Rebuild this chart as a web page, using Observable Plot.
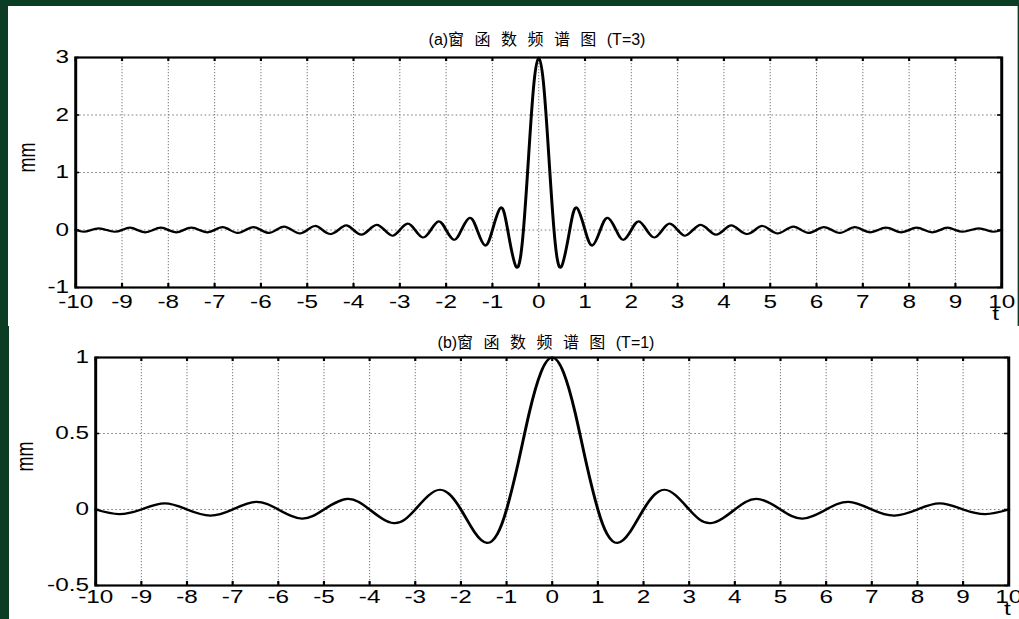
<!DOCTYPE html>
<html><head><meta charset="utf-8">
<script src="https://cdn.jsdelivr.net/npm/d3@7"></script>
<script src="https://cdn.jsdelivr.net/npm/@observablehq/plot@0.6"></script>
<style>
html,body{margin:0;padding:0;}
body{width:1019px;height:619px;background:#0b3d24;position:relative;overflow:hidden;font-family:"Liberation Sans",Arial,sans-serif;}
.panel{position:absolute;background:#fff;}
.title{position:absolute;transform:translate(-50%,-50%);font-size:16px;white-space:nowrap;font-family:"Liberation Sans","Noto Sans CJK SC",sans-serif;word-spacing:6px;color:#000;}
.chart{position:absolute;left:0;}
</style></head><body>
<div class="panel" style="left:8px;top:6px;width:1009px;height:320px;border-right:1px solid #9fb5a8"></div>
<div class="panel" style="left:9px;top:326px;width:1010px;height:293px"></div>
<div id="a" class="chart" style="top:0px"></div>
<div id="b" class="chart" style="top:326px"></div>
<div class="title" id="ta" style="left:537px;top:38px"></div>
<div class="title" id="tb" style="left:546px;top:341px"></div>
<script>
// ---- data ----
const xTicks = [-10,-9,-8,-7,-6,-5,-4,-3,-2,-1,0,1,2,3,4,5,6,7,8,9,10];
const xTickLabels = ["-10","-9","-8","-7","-6","-5","-4","-3","-2","-1","0","1","2","3","4","5","6","7","8","9","10"];
const yTicksA = [-1,0,1,2,3];
const yTickLabelsA = ["-1","0","1","2","3"];
const yTicksB = [-0.5,0,0.5,1];
const yTickLabelsB = ["-0.5","0","0.5","1"];

// (a) T=3 spectrum, read at zero crossings and extrema
const tA = [-10,-9.83,-9.67,-9.5,-9.33,-9.16,-9,-8.83,-8.67,-8.5,-8.33,-8.16,-8,-7.83,-7.67,-7.5,-7.33,-7.16,-7,
  -6.83,-6.67,-6.5,-6.33,-6.16,-6,-5.83,-5.67,-5.5,-5.33,-5.16,-5,-4.83,-4.67,-4.5,-4.33,-4.16,-4,
  -3.83,-3.67,-3.5,-3.33,-3.16,-3,-2.83,-2.67,-2.5,-2.33,-2.16,-2,-1.83,-1.67,-1.49,-1.33,-1.16,-1,
  -0.82,-0.67,-0.48,-0.33,-0.2,-0.1,0,
  0.1,0.2,0.33,0.48,0.67,0.82,1,1.16,1.33,1.49,1.67,1.83,2,2.16,2.33,2.5,2.67,2.83,3,3.16,3.33,3.5,3.67,3.83,
  4,4.16,4.33,4.5,4.67,4.83,5,5.16,5.33,5.5,5.67,5.83,6,6.16,6.33,6.5,6.67,6.83,7,7.16,7.33,7.5,7.67,7.83,
  8,8.16,8.33,8.5,8.67,8.83,9,9.16,9.33,9.5,9.67,9.83,10];
const yA = [0,-0.03,0,0.03,0,-0.03,0,0.04,0,-0.04,0,0.04,0,-0.04,0,0.04,0,-0.04,0,
  0.05,0,-0.05,0,0.05,0,-0.05,0,0.06,0,-0.06,0,0.07,0,-0.07,0,0.08,0,
  -0.08,0,0.09,0,-0.10,0,0.11,0,-0.13,0,0.15,0,-0.17,0,0.21,0,-0.27,0,
  0.39,0,-0.65,0,1.51,2.58,3,
  2.58,1.51,0,-0.65,0,0.39,0,-0.27,0,0.21,0,-0.17,0,0.15,0,-0.13,0,0.11,0,-0.10,0,0.09,0,-0.08,
  0,0.08,0,-0.07,0,0.07,0,-0.06,0,0.06,0,-0.05,0,0.05,0,-0.05,0,0.05,0,-0.04,0,0.04,0,-0.04,
  0,0.04,0,-0.04,0,0.04,0,-0.03,0,0.03,0,-0.03,0];

// (b) T=1 spectrum
const tB = [-10,-9.49,-9,-8.49,-8,-7.49,-7,-6.49,-6,-5.48,-5,-4.48,-4,-3.47,-3,-2.46,-2,-1.7,-1.43,-1.2,-1,
  -0.75,-0.5,-0.25,0,0.25,0.5,0.75,
  1,1.2,1.43,1.7,2,2.46,3,3.47,4,4.48,5,5.48,6,6.49,7,7.49,8,8.49,9,9.49,10];
const yB = [0,-0.03,0,0.04,0,-0.04,0,0.05,0,-0.06,0,0.07,0,-0.09,0,0.13,0,-0.15,-0.22,-0.16,0,
  0.30,0.64,0.90,1,0.90,0.64,0.30,
  0,-0.16,-0.22,-0.15,0,0.13,0,-0.09,0,0.07,0,-0.06,0,0.05,0,-0.04,0,0.04,0,-0.03,0];

const titleA = "(a)窗 函 数 频 谱 图 (T=3)";
const titleB = "(b)窗 函 数 频 谱 图 (T=1)";
const yLabel = "mm";
const xLabel = "t";

document.getElementById("ta").textContent = titleA;
document.getElementById("tb").textContent = titleB;

// ---- drawing ----
const PAGE_W = 1019, W = 755;
function make(el, o) {
  const innerH = o.H - o.mt - o.mb, innerW = W - o.ml - o.mr;
  const data = o.t.map((d, i) => ({t: d, v: o.y[i]}));
  const grid = {stroke: "#808080", strokeOpacity: 1, strokeDasharray: "1.2,1.8", strokeWidth: 0.8};
  const tk = {stroke: "black", strokeWidth: 1.6};
  const svg = Plot.plot({
    width: W, height: o.H,
    marginTop: o.mt, marginBottom: o.mb, marginLeft: o.ml, marginRight: o.mr,
    style: {background: "transparent", fontFamily: "Liberation Sans, Arial, sans-serif", fontSize: "18px", color: "black", overflow: "visible"},
    x: {domain: [-10, 10]},
    y: {domain: o.yDomain},
    marks: [
      Plot.gridX(xTicks, grid),
      Plot.gridY(o.yTicks, grid),
      Plot.line(data, {x: "t", y: "v", curve: "natural", stroke: "black", strokeWidth: 2.2}),
      Plot.tickX(xTicks, {x: d => d, insetTop: innerH - 4, ...tk}),
      Plot.tickX(xTicks, {x: d => d, insetBottom: innerH - 4, ...tk}),
      Plot.tickY(o.yTicks, {y: d => d, insetLeft: innerW - 3, ...tk}),
      Plot.tickY(o.yTicks, {y: d => d, insetRight: innerW - 3, ...tk}),
      Plot.frame({stroke: "black", strokeWidth: 2.2}),
      Plot.axisX(xTicks, {tickSize: 0, tickPadding: o.pad, label: null, fontSize: 18,
        tickFormat: d => xTickLabels[xTicks.indexOf(d)]}),
      Plot.axisY(o.yTicks, {tickSize: 0, tickPadding: 5, label: null, fontSize: 18,
        tickFormat: d => o.yLabels[o.yTicks.indexOf(d)]}),
      Plot.text([yLabel], {frameAnchor: "left", rotate: -90, dx: o.mmDx, fontSize: 18, fill: "black"}),
      Plot.text([xLabel], {frameAnchor: "bottom-right", dx: o.tDx, dy: o.tDy, fontSize: 18, fill: "black"})
    ]
  });
  svg.setAttribute("preserveAspectRatio", "none");
  svg.setAttribute("width", PAGE_W);
  svg.style.width = PAGE_W + "px";
  svg.style.height = o.H + "px";
  svg.style.maxWidth = "none";
  el.appendChild(svg);
}

make(document.getElementById("a"), {
  t: tA, y: yA, yTicks: yTicksA, yLabels: yTickLabelsA, yDomain: [-1, 3],
  H: 326, mt: 57, mb: 39, ml: 55.6, mr: 13.3, pad: 8, mmDx: -35.6, tDx: -2, tDy: 32
});
make(document.getElementById("b"), {
  t: tB, y: yB, yTicks: yTicksB, yLabels: yTickLabelsB, yDomain: [-0.5, 1],
  H: 293, mt: 31, mb: 34, ml: 70.4, mr: 8.1, pad: 5, mmDx: -52, tDx: 1.5, tDy: 29
});
</script>
</body></html>
